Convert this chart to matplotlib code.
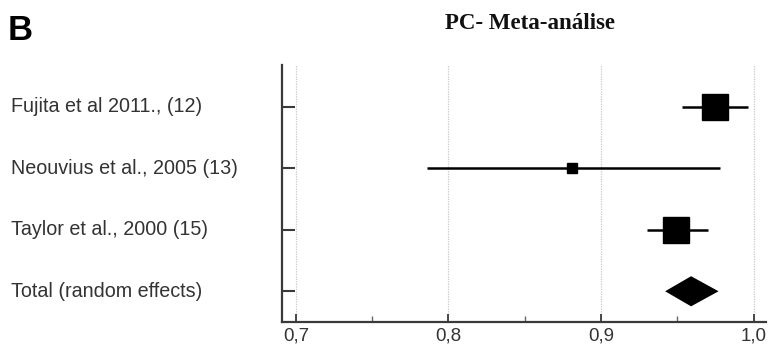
import numpy as np
import matplotlib
matplotlib.use("Agg")
import matplotlib.pyplot as plt
import matplotlib.transforms as mtransforms
from matplotlib.ticker import FixedLocator, FuncFormatter

studies = ["Fujita et al 2011., (12)", "Neouvius et al., 2005 (13)", "Taylor et al., 2000 (15)"]
estimates = [0.975, 0.881, 0.949]
ci_low = [0.953, 0.786, 0.930]
ci_high = [0.996, 0.978, 0.970]
weights = [46.3, 7.4, 46.3]

total_label = "Total (random effects)"
total_est = 0.959
total_low = 0.942
total_high = 0.977

xticks = [0.7, 0.8, 0.9, 1.0]
minor_xticks = [0.75, 0.85, 0.95]

plt.rcParams['font.family'] = ['Liberation Sans', 'DejaVu Sans']

fig = plt.figure(figsize=(7.68, 3.5), dpi=100)
ax = fig.add_axes([0.367, 0.08, 0.630, 0.734])

labels = studies + [total_label]
rows = np.arange(len(labels))

for x in xticks:
    ax.axvline(x, color="#c8c8c8", lw=0.9, ls=(0, (1, 1)), zorder=0)

for i, (e, lo, hi, w) in enumerate(zip(estimates, ci_low, ci_high, weights)):
    ax.plot([lo, hi], [i, i], color="black", lw=1.8, solid_capstyle="butt", zorder=2)
    ax.plot(e, i, marker="s", color="black", markersize=18.5 * np.sqrt(w / max(weights)),
            zorder=3)

ti = len(studies)
h = 0.245
ax.fill([total_low, total_est, total_high, total_est], [ti, ti - h, ti, ti + h],
        color="black", lw=0, zorder=3)

ax.set_xlim(0.6908, 1.0079)
ax.set_ylim(3.5, -0.68)

for s in ["top", "right"]:
    ax.spines[s].set_visible(False)
for s in ["left", "bottom"]:
    ax.spines[s].set_linewidth(1.6)
    ax.spines[s].set_color("#3a3a3a")

ax.xaxis.set_major_locator(FixedLocator(xticks))
ax.xaxis.set_minor_locator(FixedLocator(minor_xticks))
ax.xaxis.set_major_formatter(FuncFormatter(lambda v, p: f"{v:.1f}".replace(".", ",")))
ax.tick_params(axis="x", which="major", direction="in", length=6, width=1.3,
               color="#3a3a3a", labelsize=13.5, labelcolor="#333333", pad=4)
ax.tick_params(axis="x", which="minor", direction="in", length=4, width=1.0,
               color="#666666")
ax.set_yticks(rows)
ax.set_yticklabels([])
ax.tick_params(axis="y", direction="in", length=9, width=1.5, color="#3a3a3a")

trans = mtransforms.blended_transform_factory(fig.transFigure, ax.transData)
for i, lab in enumerate(labels):
    ax.text(0.014, i, lab, transform=trans, ha="left", va="center",
            fontsize=14.2, color="#333333")

fig.text(0.690, 0.918, "PC- Meta-análise", ha="center", va="baseline",
         fontsize=16.5, fontweight="bold", family=["Liberation Serif", "DejaVu Serif"],
         color="#111111")
fig.text(0.010, 0.886, "B", ha="left", va="baseline", fontsize=25,
         fontweight="bold", color="black")

fig.savefig("out.png", dpi=100)
